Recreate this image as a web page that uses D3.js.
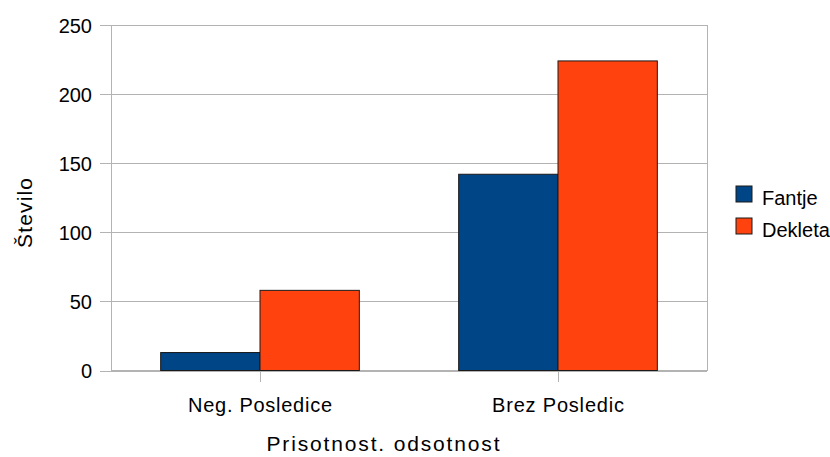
<!DOCTYPE html>
<html><head><meta charset="utf-8">
<script src="https://cdn.jsdelivr.net/npm/d3@7"></script>
<style>body{margin:0;background:#fff}svg text{font-family:"Liberation Sans",Arial,sans-serif;fill:#000}</style>
</head><body>
<svg id="c" width="830" height="457"></svg>
<script>
const categories = ["Neg. Posledice", "Brez Posledic"];
const series = ["Fantje", "Dekleta"];
const fantje = [13, 142];
const dekleta = [58, 224];
const yTicks = [0, 50, 100, 150, 200, 250];
const colors = ["#004586", "#ff420e"];
const values = [fantje, dekleta];

const svg = d3.select("#c");
const L = 111, R = 707, T = 25, B = 370.5;
const y = d3.scaleLinear().domain([0, 250]).range([B, T]);
const x0 = d3.scaleBand().domain(categories).range([L, R]).padding(0);
const x1 = d3.scaleBand().domain(series).range([0, x0.bandwidth()]).paddingInner(0).paddingOuter(0.5);

// gridlines + y ticks
const yAxis = d3.axisLeft(y).tickValues(yTicks).tickSize(-(R - L + 11)).tickPadding(8).tickFormat(d3.format("d"));
const gy = svg.append("g").attr("transform", `translate(${L},0)`).call(yAxis);
gy.select(".domain").remove();
gy.selectAll(".tick line").attr("x1", -11).attr("x2", R - L).attr("stroke", "#b3b3b3").attr("stroke-width", 1).attr("shape-rendering", "crispEdges");
gy.selectAll(".tick text").attr("x", -19).attr("font-size", 20).attr("dy", "0.35em").attr("font-family", "Liberation Sans, Arial, sans-serif").attr("fill", "#000");

// plot side borders
svg.append("line").attr("x1", L).attr("x2", L).attr("y1", T).attr("y2", B).attr("stroke", "#b3b3b3").attr("shape-rendering", "crispEdges");
svg.append("line").attr("x1", R).attr("x2", R).attr("y1", T).attr("y2", B).attr("stroke", "#b3b3b3").attr("shape-rendering", "crispEdges");

// x axis
const xAxis = d3.axisBottom(x0).tickSize(11).tickPadding(12);
const gx = svg.append("g").attr("transform", `translate(0,${B})`).call(xAxis);
gx.select(".domain").remove();
gx.selectAll(".tick line").attr("stroke", "#b3b3b3").attr("shape-rendering", "crispEdges");
gx.selectAll(".tick text").attr("font-size", 20).attr("y", 41).attr("dy", 0).attr("font-family", "Liberation Sans, Arial, sans-serif").attr("fill", "#000")
  .attr("textLength", (d, i) => [144, 132][i]).attr("lengthAdjust", "spacing");
svg.append("line").attr("x1", L).attr("x2", R).attr("y1", B).attr("y2", B).attr("stroke", "#b3b3b3").attr("shape-rendering", "crispEdges");

// bars
const rows = categories.map((c, i) => ({ c, vals: series.map((s, j) => ({ s, v: values[j][i], col: colors[j] })) }));
svg.append("g").selectAll("g").data(rows).join("g")
  .attr("transform", d => `translate(${x0(d.c)},0)`)
  .selectAll("rect").data(d => d.vals).join("rect")
  .attr("x", d => x1(d.s)).attr("width", x1.bandwidth())
  .attr("y", d => y(d.v)).attr("height", d => B - y(d.v))
  .attr("fill", d => d.col).attr("stroke", "#1a1a1a").attr("stroke-width", 1);

// axis titles
svg.append("text").attr("x", 383).attr("y", 451).attr("text-anchor", "middle").attr("font-size", 21)
  .attr("textLength", 233).attr("lengthAdjust", "spacing").text("Prisotnost. odsotnost");
svg.append("text").attr("transform", "translate(32,213) rotate(-90)").attr("text-anchor", "middle").attr("font-size", 21)
  .attr("textLength", 70).attr("lengthAdjust", "spacing").text("Število");

// legend
const lg = svg.append("g").selectAll("g").data(series).join("g")
  .attr("transform", (d, i) => `translate(736,${186 + i * 32})`);
lg.append("rect").attr("width", 16).attr("height", 16).attr("fill", (d, i) => colors[i]).attr("stroke", "#1a1a1a");
lg.append("text").attr("x", 26).attr("y", 19).attr("font-size", 20).text(d => d);
</script>
</body></html>
